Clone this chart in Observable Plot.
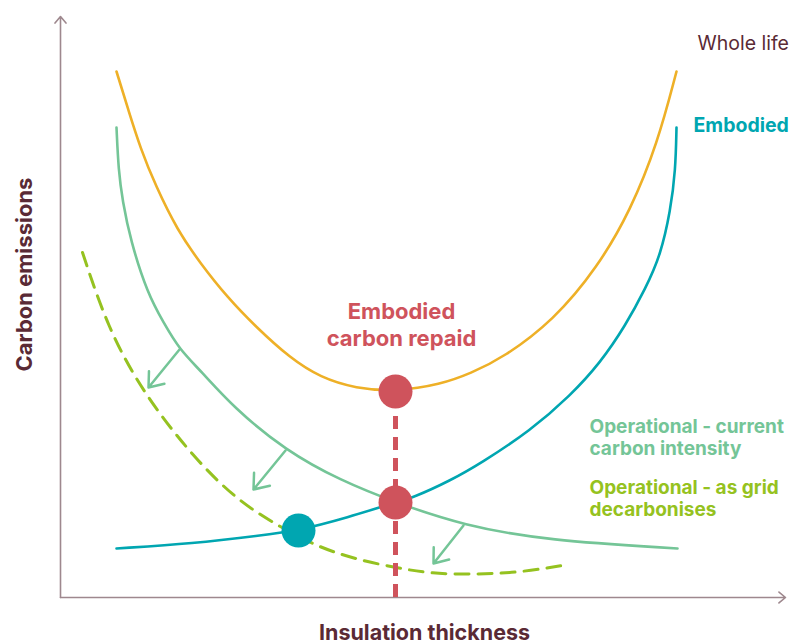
<!DOCTYPE html>
<html>
<head>
<meta charset="utf-8">
<script src="https://cdn.jsdelivr.net/npm/d3@7"></script>
<script src="https://cdn.jsdelivr.net/npm/@observablehq/plot@0.6"></script>
<style>
  html, body { margin: 0; padding: 0; background: #ffffff; }
  #chart { width: 790px; height: 644px; }
</style>
</head>
<body>
<div id="chart"></div>
<script>
// Conceptual units: insulation thickness (x) and carbon emissions (y)
const wholeLife = [[56,526],[68,487],[80,449],[95,412],[117,367],[140,334],[167,300],[195,271],[230,239],[260,220],[295,209],[336,206],[380,213],[410,224],[443,240],[493,277],[537,330],[570,387],[597,454],[616,526]];
const embodied = [[56,49],[133,54],[200,62],[238,67],[287,80],[335,95],[353,100],[390,117],[420,134],[470,167],[510,202],[540,235],[565,272],[585,309],[600,342],[610,387],[615,427],[616,470]];
const operationalCurrent = [[56,470],[58,427],[62,397],[70,357],[87,304],[103,275],[119,248],[140,227],[173,190],[225,147],[280,117],[335,95],[403,72],[487,57],[617,49]];
const operationalDecarb = [[22,345],[47,270],[83,204],[133,140],[177,97],[217,72],[258,50],[300,37],[340,29],[370,24],[413,23],[460,25],[508,33]];
const repaidPoints = [[335,206],[335,95]];
const embodiedPoint = [[238,67]];
const shiftArrows = [[119,248,88,210],[225,147,193,108],[403,72,373,34]];
const axisExtent = {x: 725, y: 581};

const C = {
  orange: "#EEB027", teal: "#00A6B1", green: "#74C597", lime: "#95C220",
  red: "#CF535C", text: "#5A2A35", axis: "#9E888E"
};
const toXY = a => a.map(([x, y]) => ({x, y}));

const chart = Plot.plot({
  width: 790, height: 644,
  marginLeft: 60, marginRight: 5, marginTop: 16, marginBottom: 47,
  x: {domain: [0, axisExtent.x], axis: null},
  y: {domain: [0, axisExtent.y], axis: null},
  style: {fontFamily: "Inter, sans-serif", background: "#ffffff"},
  marks: [
    Plot.arrow([{x1: 0, y1: 0, x2: 0, y2: axisExtent.y}, {x1: 0, y1: 0, x2: axisExtent.x, y2: 0}],
      {x1: "x1", y1: "y1", x2: "x2", y2: "y2", stroke: C.axis, strokeWidth: 1.6, headLength: 8, headAngle: 80, bend: 0, clip: false}),
    Plot.line(toXY(operationalDecarb), {x: "x", y: "y", curve: "basis", stroke: C.lime, strokeWidth: 3, strokeDasharray: "14,9"}),
    Plot.line(toXY(wholeLife), {x: "x", y: "y", curve: "basis", stroke: C.orange, strokeWidth: 2.6}),
    Plot.line(toXY(operationalCurrent), {x: "x", y: "y", curve: "basis", stroke: C.green, strokeWidth: 2.6}),
    Plot.line(toXY(embodied), {x: "x", y: "y", curve: "basis", stroke: C.teal, strokeWidth: 2.6}),
    Plot.arrow(shiftArrows.map(([x1, y1, x2, y2]) => ({x1, y1, x2, y2})),
      {x1: "x1", y1: "y1", x2: "x2", y2: "y2", stroke: C.green, strokeWidth: 2.5, headLength: 15, headAngle: 75, bend: 0}),
    Plot.ruleX([repaidPoints[0][0]], {y1: 0, y2: repaidPoints[0][1], stroke: C.red, strokeWidth: 5, strokeDasharray: "13,8"}),
    Plot.dot(toXY(repaidPoints), {x: "x", y: "y", r: 17, fill: C.red}),
    Plot.dot(toXY(embodiedPoint), {x: "x", y: "y", r: 17, fill: C.teal}),
    Plot.text(["Whole life"], {x: 637, y: 561, text: d => d, textAnchor: "start", lineAnchor: "top", fontSize: 19.5, fill: C.text, clip: false}),
    Plot.text(["Embodied"], {x: 633, y: 479, text: d => d, textAnchor: "start", lineAnchor: "top", fontSize: 19.5, fontWeight: 700, fill: C.teal}),
    Plot.text(["Operational - current\ncarbon intensity"], {x: 529, y: 180, text: d => d, textAnchor: "start", lineAnchor: "top", lineHeight: 1.15, fontSize: 19, fontWeight: 700, fill: C.green}),
    Plot.text(["Operational - as grid\ndecarbonises"], {x: 529, y: 119, text: d => d, textAnchor: "start", lineAnchor: "top", lineHeight: 1.15, fontSize: 19, fontWeight: 700, fill: C.lime}),
    Plot.text(["Embodied\ncarbon repaid"], {x: 341, y: 298, text: d => d, textAnchor: "middle", lineAnchor: "top", lineHeight: 1.23, fontSize: 22, fontWeight: 700, fill: C.red}),
    Plot.text(["Insulation thickness"], {x: 364, y: -27, text: d => d, textAnchor: "middle", lineAnchor: "top", fontSize: 21.5, fontWeight: 700, fill: C.text, clip: false}),
    Plot.text(["Carbon emissions"], {x: -36, y: 323, text: d => d, rotate: -90, textAnchor: "middle", fontSize: 22, fontWeight: 700, fill: C.text, clip: false})
  ]
});
document.getElementById("chart").appendChild(chart);
</script>
</body>
</html>
